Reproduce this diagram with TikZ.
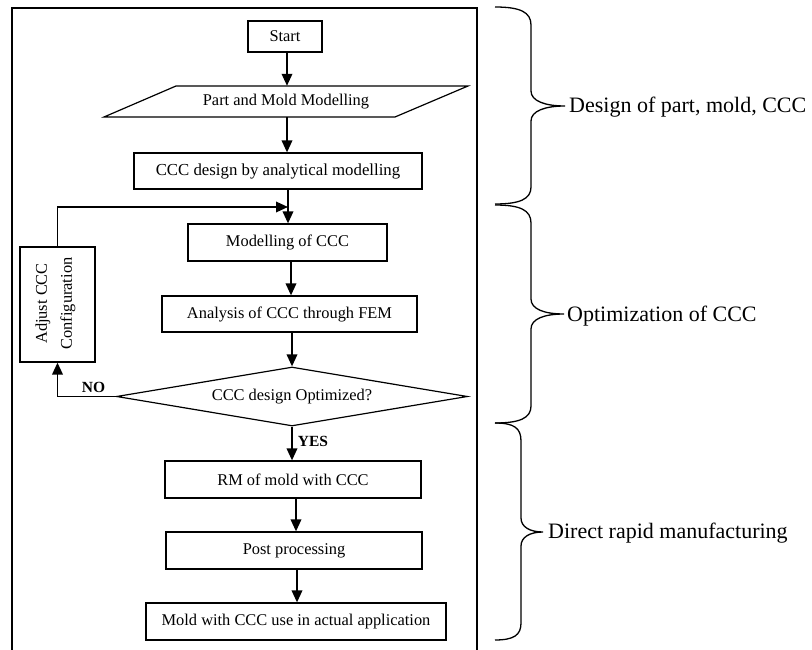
\documentclass[tikz,border=0pt]{standalone}
\usepackage{fontspec}
\setmainfont{Liberation Serif}
\usetikzlibrary{arrows.meta,shapes.geometric}
\begin{document}
\begin{tikzpicture}[x=1pt,y=-1pt,
  box/.style={draw, line width=1.2pt, inner sep=0pt, font=\fontsize{16.4}{20}\selectfont, align=center},
  plain/.style={inner sep=0pt, font=\fontsize{16.4}{20}\selectfont, align=center},
  arr/.style={line width=1.9pt, -{Triangle[length=12pt,width=10.5pt]}},
  yn/.style={inner sep=0pt, font=\fontsize{15.5}{18}\selectfont\bfseries},
  lbl/.style={inner sep=0pt, font=\fontsize{22}{26}\selectfont, anchor=base west},
  brc/.style={line width=1.3pt}]
\useasboundingbox (0,0) rectangle (812,650);

% outer frame (open at the bottom)
\draw[line width=1.2pt] (12,650) -- (12,8) -- (477,8) -- (477,650);

% nodes
\node[box, minimum width=74pt, minimum height=31pt] (start) at (285,36.5) {Start};
\node[plain, minimum width=292pt, minimum height=31pt] (pm) at (286,101.5) {Part and Mold Modelling};
\draw[line width=1.2pt] (176,86) -- (468,86) -- (395,117) -- (104,117) -- cycle;
\node[box, minimum width=288pt, minimum height=36pt, font=\fontsize{16.8}{20}\selectfont] (ccc) at (278,171) {CCC design by analytical modelling};
\node[box, minimum width=199pt, minimum height=37pt] (mod) at (287.5,242.5) {Modelling of CCC};
\node[box, minimum width=255pt, minimum height=36pt] (ana) at (289.5,314) {Analysis of CCC through FEM};
\node[box, shape=diamond, aspect=5.95, minimum width=351pt, minimum height=59pt] (dia) at (292,396.5) {CCC design Optimized?};
\node[box, minimum width=75pt, minimum height=115pt] (adj) at (57.5,304.5) {};
\node[plain, rotate=90, font=\fontsize{16.4}{25}\selectfont] (adjtxt) at (55.5,303.5) {Adjust CCC\\Configuration};
\node[box, minimum width=256pt, minimum height=37pt] (rm) at (293,479.5) {RM of mold with CCC};
\node[box, minimum width=256pt, minimum height=37pt] (post) at (294,550.5) {Post processing};
\node[box, minimum width=300pt, minimum height=37pt] (mold) at (296,621.5) {Mold with CCC use in actual application};

\node[yn] (no) at (93.5,387) {NO};
\node[yn] (yes) at (313,441) {YES};

% helper x positions
\coordinate (xa) at (287,0);
\coordinate (xb) at (288,0);
\coordinate (xc) at (291,0);
\coordinate (xd) at (292,0);
\coordinate (xf) at (296,0);
\coordinate (xg) at (297,0);
\coordinate (join) at (288,207);

% connectors
\draw[arr] (start.south -| xa) -- (pm.north -| xa);
\draw[arr] (pm.south -| xa) -- (ccc.north -| xa);
\draw[arr] (ccc.south -| xb) -- (mod.north -| xb);
\draw[arr] (mod.south -| xc) -- (ana.north -| xc);
\draw[arr] (ana.south -| xd) -- (dia.north);
\draw[arr] (dia.south) -- (rm.north -| xd);
\draw[arr] (rm.south -| xf) -- (post.north -| xf);
\draw[arr] (post.south -| xg) -- (mold.north -| xg);
\draw[arr] (dia.west) -| (adj.south);
\draw[arr] (adj.north) |- (join);

% braces
\draw[brc] (495,7) .. controls (520,7) and (531,12) .. (531,25) -- (531,91)
  .. controls (531,101) and (545,106) .. (565,106)
  .. controls (545,106) and (531,111) .. (531,121) -- (531,187)
  .. controls (531,199) and (520,204) .. (495,204);
\draw[brc] (495,205) .. controls (520,205) and (531,210) .. (531,223) -- (531,299)
  .. controls (531,309) and (544,314) .. (564,314)
  .. controls (544,314) and (531,319) .. (531,329) -- (531,406)
  .. controls (531,418) and (520,423) .. (495,423);
\draw[brc] (495,423) .. controls (514,423) and (521,428) .. (521,441) -- (521,518)
  .. controls (521,527) and (530,532) .. (543,532)
  .. controls (530,532) and (521,537) .. (521,546) -- (521,623)
  .. controls (521,635) and (514,640) .. (495,640);

\node[lbl] (l1) at (569,113) {Design of part, mold, CCC};
\node[lbl] (l2) at (567,321) {Optimization of CCC};
\node[lbl] (l3) at (548,538) {Direct rapid manufacturing};
\end{tikzpicture}
\end{document}
